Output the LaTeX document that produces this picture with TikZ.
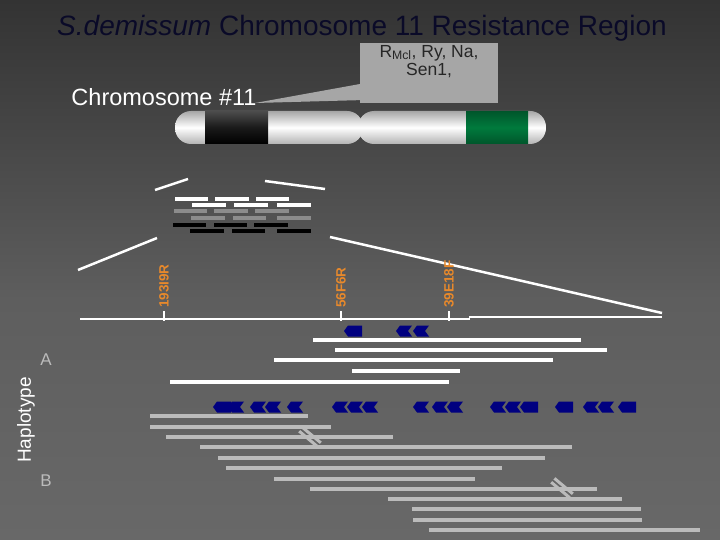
\documentclass[tikz,border=0pt]{standalone}
\usepackage{fontspec}
\setmainfont{Liberation Sans}
\definecolor{bgtop}{HTML}{333333}
\definecolor{bgmid}{HTML}{5E5E5E}
\definecolor{bgbot}{HTML}{686868}
\definecolor{navyA}{HTML}{000080}
\definecolor{lgray}{HTML}{BBBBBB}
\definecolor{mgray}{HTML}{8C8C8C}
\definecolor{orng}{HTML}{E8892B}
\definecolor{chrgreen}{HTML}{007A3D}
\definecolor{boxgray}{HTML}{A6A6A6}
\tikzset{
 wbar/.style={white,line width=4pt},
 gbar/.style={lgray,line width=4pt},
 mbar/.style={mgray,line width=4pt},
 kbar/.style={black,line width=4pt},
 wline/.style={white,line width=2.5pt},
 lbl/.style={text=orng,font=\bfseries\fontsize{13.5}{13.5}\selectfont,rotate=90,anchor=west,inner sep=0pt},
 chev/.pic={\fill[navyA] (0,0)--(4,-5.5)--(16,-5.5)--(12,0)--(16,5.5)--(4,5.5)--cycle;},
 blk/.pic={\fill[navyA] (0,0)--(4,-5.5)--(18,-5.5)--(18,5.5)--(4,5.5)--cycle;}
}
\begin{document}
\begin{tikzpicture}[x=1pt,y=-1pt]
\useasboundingbox (0,0) rectangle (720,540);
\shade[top color=bgtop,bottom color=bgmid] (0,0) rectangle (720,300);
\shade[top color=bgmid,bottom color=bgbot] (0,300) rectangle (720,540);
% title
\node[font=\fontsize{28}{28}\selectfont,text={rgb,255:red,10;green,10;blue,40}] (title) at (362,28) {\textit{S.demissum} Chromosome 11 Resistance Region};
\node[font=\fontsize{23.5}{23.5}\selectfont,text=white] (chrlbl) at (164,97) {Chromosome \#11};
% callout
\fill[boxgray] (360,84) -- (255,103) -- (365,100) -- cycle;
\node[fill=boxgray,minimum width=138pt,minimum height=60pt,inner sep=0pt,align=center,font=\fontsize{17.5}{18}\selectfont,text=black!85] (call) at (429,73) {R\textsubscript{Mcl}, Ry, Na,\\Sen1,\\[8pt]};
% chromosome
\begin{scope}
\clip[rounded corners=16pt] (175,111) rectangle (363,144);
\shade[top color=gray!70,bottom color=gray!60,middle color=white] (175,111) rectangle (363,144);
\shade[top color=black!70,bottom color=black,middle color=black!90] (205,111) rectangle (268,144);
\end{scope}
\begin{scope}
\clip[rounded corners=16pt] (358,111) rectangle (546,144);
\shade[top color=gray!70,bottom color=gray!60,middle color=white] (358,111) rectangle (546,144);
\shade[top color=chrgreen!70!black,bottom color=chrgreen!70!black,middle color=chrgreen] (466,111) rectangle (528,144);
\end{scope}
\node[inner sep=0pt] (chr) at (360,127.5) {};
% zoom lines
\coordinate (z1a) at (155,190); \coordinate (z1b) at (188,179);
\coordinate (z2a) at (265,181); \coordinate (z2b) at (325,189);
\coordinate (z3a) at (78,270);  \coordinate (z3b) at (157,238);
\coordinate (z4a) at (330,237); \coordinate (z4b) at (662,313);
\draw[wline] (z1a)--(z1b); \draw[wline] (z2a)--(z2b);
\draw[wline] (z3a)--(z3b); \draw[wline] (z4a)--(z4b);
% small bars
\foreach \a/\b in {175/208,215/249,256/289} \draw[wbar] (\a,199)--(\b,199);
\foreach \a/\b in {192/226,234/268,277/311} \draw[wbar] (\a,205)--(\b,205);
\foreach \a/\b in {174/207,214/248,255/289} \draw[mbar] (\a,211)--(\b,211);
\foreach \a/\b in {191/225,233/266,277/311} \draw[mbar] (\a,218)--(\b,218);
\foreach \a/\b in {173/206,214/247,254/288} \draw[kbar] (\a,225)--(\b,225);
\foreach \a/\b in {190/224,232/265,277/311} \draw[kbar] (\a,231)--(\b,231);
% axis
\coordinate (ax0) at (80,319); \coordinate (ax1) at (470,319);
\coordinate (ax2) at (469,317); \coordinate (ax3) at (662,317);
\draw[wline] (ax0)--(ax1); \draw[wline] (ax2)--(ax3);
\foreach \x/\t/\n in {164/193I9R/m1,341/56F6R/m2,449/39E18F/m3}{
 \draw[white,line width=2pt] (\x,311)--(\x,321);
 \node[lbl] (\n) at (\x,308) {\t};
}
% upper arrows
\pic at (344,331) {blk};
\pic at (396,331) {chev};
\pic at (413,331) {chev};
% white clone bars
\foreach \a/\b/\y in {313/581/340,335/607/350,274/553/360,352/460/371,170/449/382}
 \draw[wbar] (\a,\y)--(\b,\y);
% lower arrows
\pic at (213,407) {blk};
\foreach \x in {228,250,265,287,332,347,362,413,432,447,490,505} \pic at (\x,407) {chev};
\pic at (520,407) {blk};
\pic at (555,407) {blk};
\foreach \x in {583,598} \pic at (\x,407) {chev};
\pic at (618,407) {blk};
% gray clone bars
\foreach \a/\b/\y in {150/308/416,150/331/427,166/393/437,200/572/447,218/545/458,226/502/468,274/475/479,310/597/489,388/622/499,412/641/509,413/642/520,429/700/530}
 \draw[gbar] (\a,\y)--(\b,\y);
% break marks
\foreach \x/\y in {310/437,562/488}{
 \fill[lgray,rotate around={-40:(\x,\y)}] (\x-12,\y-4) rectangle (\x+12,\y-1);
 \fill[lgray,rotate around={-40:(\x,\y)}] (\x-12,\y+1) rectangle (\x+12,\y+4);
}
% haplotype labels
\node[rotate=90,font=\fontsize{19}{19}\selectfont,text=white] (hap) at (26,420) {Haplotype};
\node[font=\fontsize{17}{17}\selectfont,text=lgray] (hA) at (46,360) {A};
\node[font=\fontsize{17}{17}\selectfont,text=lgray] (hB) at (46,481) {B};
\end{tikzpicture}
\end{document}
